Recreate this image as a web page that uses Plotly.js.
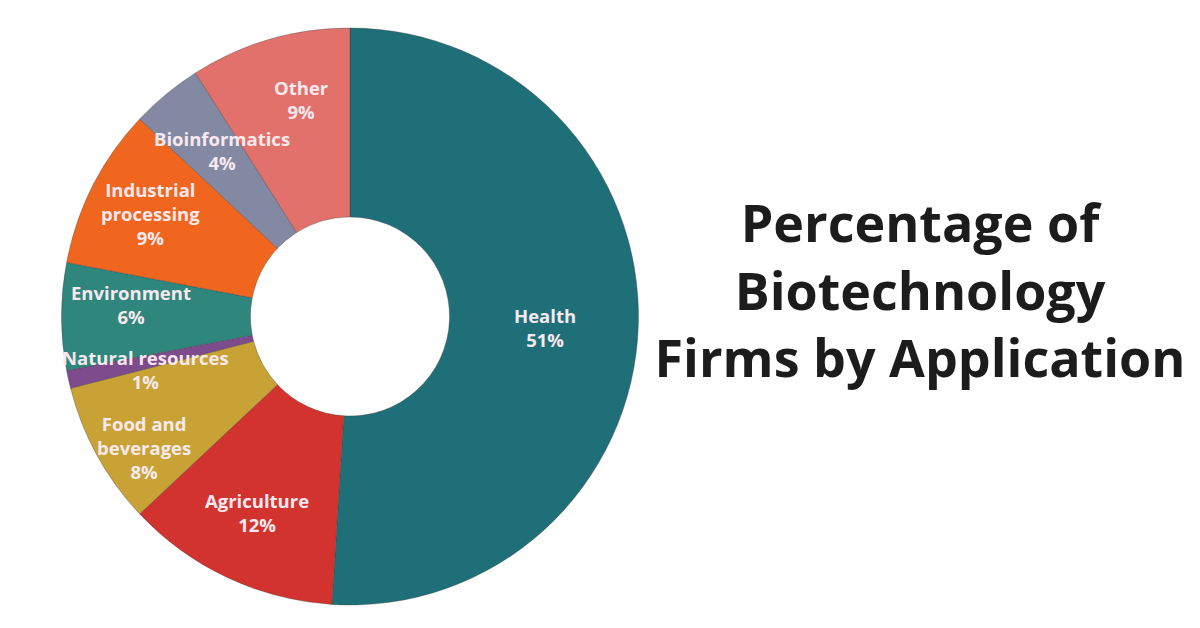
<!DOCTYPE html>
<html>
<head>
<meta charset="utf-8">
<script src="https://cdn.plot.ly/plotly-3.0.1.min.js"></script>
<style>html,body{margin:0;padding:0;background:#fff;}#chart{width:1200px;height:628px;}</style>
</head>
<body>
<div id="chart"></div>
<script>
const categories = ["Health", "Agriculture", "Food and beverages", "Natural resources", "Environment", "Industrial processing", "Bioinformatics", "Other"];
const values = [51, 12, 8, 1, 6, 9, 4, 9];
const labelLines = ["Health", "Agriculture", "Food and<br>beverages", "Natural resources", "Environment", "Industrial<br>processing", "Bioinformatics", "Other"];
const colors = ["#1f6f78", "#d2332e", "#c9a235", "#7e4b8c", "#2f867c", "#f0661e", "#8389a3", "#e2716b"];

// label anchor positions in pixels (layout only)
const labelPos = [[545, 327], [257, 512], [144, 447], [145, 369], [131, 304], [150, 213], [222, 150], [301, 99]];

const W = 1200, H = 628;
const annotations = categories.map((c, i) => ({
  xref: "paper", yref: "paper",
  x: labelPos[i][0] / W, y: 1 - labelPos[i][1] / H,
  xanchor: "center", yanchor: "middle",
  text: labelLines[i] + "<br>" + values[i] + "%",
  showarrow: false,
  font: {family: "Open Sans, sans-serif", size: 18.5, color: "#f7e9ee", weight: 700},
  align: "center"
}));

const data = [{
  type: "pie",
  labels: categories,
  values: values,
  sort: false,
  direction: "clockwise",
  rotation: 0,
  hole: 0.345,
  textinfo: "none",
  marker: {colors: colors, line: {color: "rgba(60,60,60,0.35)", width: 1}},
  domain: {x: [60 / W, 640 / W], y: [1 - 605 / H, 1 - 28 / H]},
  showlegend: false
}];

const layout = {
  width: W, height: H,
  margin: {l: 0, r: 0, t: 0, b: 0},
  paper_bgcolor: "#ffffff",
  plot_bgcolor: "#ffffff",
  showlegend: false,
  title: {
    text: "<b>Percentage of<br>Biotechnology<br>Firms by Application</b>",
    x: 920 / W, xanchor: "center",
    y: 1 - 242 / H, yanchor: "middle",
    xref: "paper", yref: "paper",
    font: {family: "Open Sans, sans-serif", size: 52, color: "#1c1c1c"}
  },
  annotations: annotations
};

Plotly.newPlot("chart", data, layout, {displayModeBar: false, staticPlot: true});
</script>
</body>
</html>
